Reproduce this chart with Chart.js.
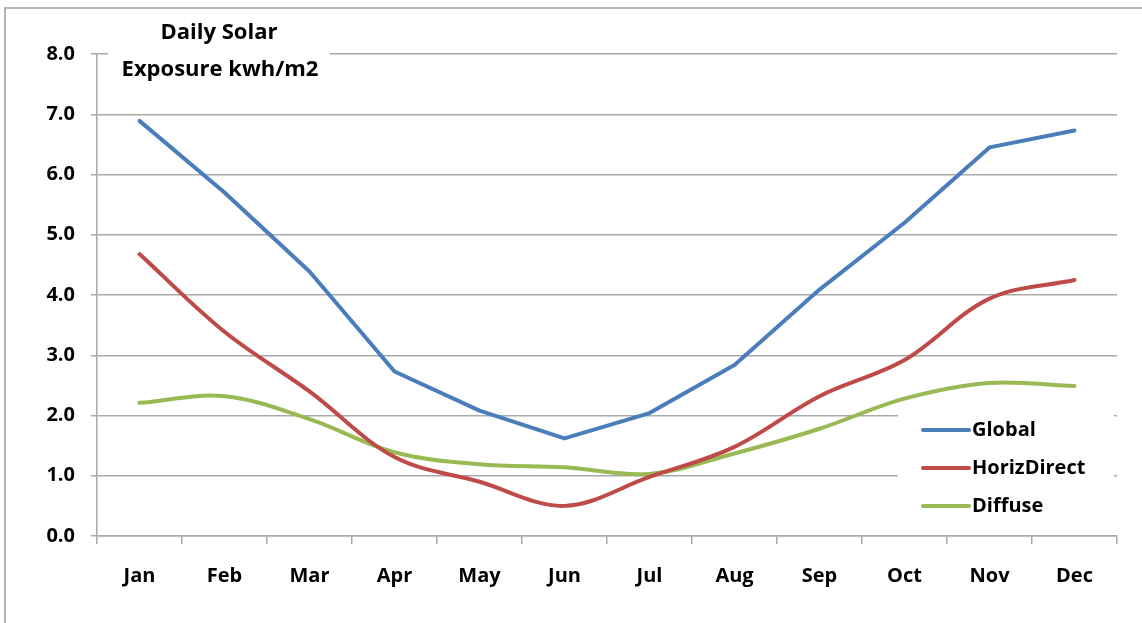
<!DOCTYPE html>
<html>
<head>
<meta charset="utf-8">
<script src="https://cdn.jsdelivr.net/npm/chart.js@4/dist/chart.umd.min.js"></script>
<style>
  html, body { margin: 0; padding: 0; background: #fff; }
  #wrap { width: 1142px; height: 623px; }
</style>
</head>
<body>
<div id="wrap"><canvas id="c" width="1142" height="623"></canvas></div>
<script>
// Monthly average daily solar exposure (kWh/m2)
const months = ['Jan','Feb','Mar','Apr','May','Jun','Jul','Aug','Sep','Oct','Nov','Dec'];
const globalExposure = [6.89, 5.70, 4.39, 2.73, 2.08, 1.62, 2.04, 2.84, 4.09, 5.20, 6.45, 6.73];
const horizDirect    = [4.68, 3.39, 2.40, 1.31, 0.90, 0.50, 0.98, 1.48, 2.32, 2.92, 3.94, 4.25];
const diffuse        = [2.21, 2.32, 1.94, 1.39, 1.19, 1.14, 1.03, 1.37, 1.78, 2.28, 2.54, 2.49];
const yTicks = [0, 1, 2, 3, 4, 5, 6, 7, 8];
const titleLines = ['Daily Solar', 'Exposure kwh/m2'];

const FONT = '"Open Sans", Lato, sans-serif';
const WEIGHT = 'bold';
const GRID = '#a9a9a9';

// Frame, title block and in-plot legend
const decorations = {
  id: 'decorations',
  beforeDraw(chart) {
    const ctx = chart.ctx;
    ctx.save();
    ctx.fillStyle = '#fff';
    ctx.fillRect(0, 0, chart.width, chart.height);
    ctx.strokeStyle = '#b4b4b4';
    ctx.lineWidth = 2;
    ctx.beginPath();
    ctx.moveTo(5, chart.height);
    ctx.lineTo(5, 8);
    ctx.lineTo(chart.width, 8);
    ctx.stroke();
    ctx.restore();
  },
  beforeDatasetsDraw(chart) {
    const ctx = chart.ctx;
    const area = chart.chartArea;
    ctx.save();
    // title block over the top gridline
    ctx.fillStyle = '#fff';
    ctx.fillRect(area.left + 11, 12, 222, 78);
    ctx.fillStyle = '#000';
    ctx.font = WEIGHT + ' 22px ' + FONT;
    ctx.textAlign = 'center';
    ctx.textBaseline = 'middle';
    ctx.fillText(titleLines[0], 219, 33);
    ctx.fillText(titleLines[1], 220, 70);

    // legend block inside the plot
    const lx = 898, ly = 406;
    ctx.fillStyle = '#fff';
    ctx.fillRect(lx, ly, 216, 114);
    ctx.font = WEIGHT + ' 20px ' + FONT;
    ctx.textAlign = 'left';
    chart.data.datasets.forEach((ds, i) => {
      const y = 430 + i * 38;
      ctx.strokeStyle = ds.borderColor;
      ctx.lineWidth = 4;
      ctx.lineCap = 'round';
      ctx.beginPath();
      ctx.moveTo(923, y);
      ctx.lineTo(969, y);
      ctx.stroke();
      ctx.fillStyle = '#000';
      ctx.fillText(ds.label, 972, y);
    });
    ctx.restore();
  }
};

new Chart(document.getElementById('c'), {
  type: 'line',
  data: {
    labels: months,
    datasets: [
      { label: 'Global', data: globalExposure, borderColor: '#4a7ebb', tension: 0 },
      { label: 'HorizDirect', data: horizDirect, borderColor: '#be4b48', tension: 0.35 },
      { label: 'Diffuse', data: diffuse, borderColor: '#98b954', tension: 0.35 }
    ].map(d => Object.assign({
      borderWidth: 4,
      pointRadius: 0,
      pointHoverRadius: 0,
      fill: false,
      borderCapStyle: 'round',
      borderJoinStyle: 'round'
    }, d))
  },
  options: {
    responsive: false,
    animation: false,
    events: [],
    layout: { padding: { left: 0, top: 54, right: 25, bottom: 0 } },
    plugins: { legend: { display: false }, tooltip: { enabled: false }, title: { display: false } },
    scales: {
      x: {
        offset: true,
        grid: { offset: true, drawOnChartArea: false, drawTicks: true, tickLength: 8, color: GRID, lineWidth: 1.5 },
        border: { display: true, color: GRID, width: 1.5 },
        ticks: { color: '#000', font: { family: FONT, size: 20, weight: WEIGHT }, padding: 20, maxRotation: 0 },
        afterFit(scale) { scale.height = 623 - 536; }
      },
      y: {
        min: 0, max: 8,
        afterBuildTicks(scale) { scale.ticks = yTicks.map(v => ({ value: v })); },
        grid: { color: GRID, lineWidth: 1.5, tickLength: 6, drawTicks: true },
        border: { display: true, color: GRID, width: 1.5 },
        ticks: {
          color: '#000', padding: 16,
          font: { family: FONT, size: 20, weight: WEIGHT },
          callback: v => Number(v).toFixed(1)
        },
        afterFit(scale) { scale.width = 97; }
      }
    }
  },
  plugins: [decorations]
});
</script>
</body>
</html>
